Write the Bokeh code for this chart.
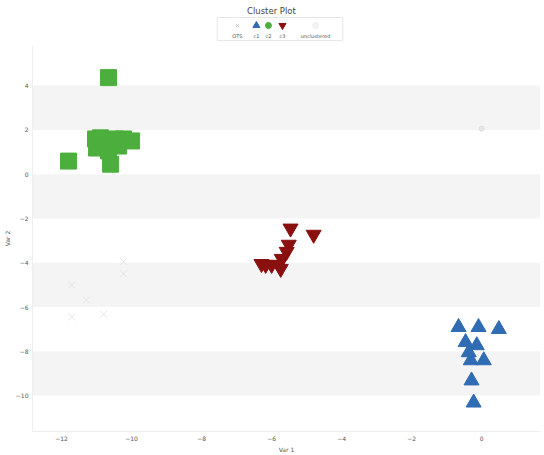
from bokeh.plotting import figure
from bokeh.layouts import column
from bokeh.models import Range1d, FixedTicker
from bokeh.embed import file_html
from bokeh.resources import INLINE
from bokeh.core.properties import value

# ---- data -------------------------------------------------------------
c1_x = [-0.66, -0.09, 0.49, -0.46, -0.14, -0.37, 0.06, -0.31, -0.29, -0.23]
c1_y = [-6.91, -6.91, -7.00, -7.59, -7.73, -8.05, -8.41, -8.41, -9.32, -10.32]

c2_x = [-10.66, -11.03, -10.89, -10.74, -10.46, -10.23, -10.00, -11.00, -10.66, -10.60, -11.80, -10.37]
c2_y = [4.36, 1.59, 1.64, 1.50, 1.59, 1.59, 1.50, 1.18, 1.05, 0.45, 0.59, 1.27]

c3_x = [-5.46, -4.80, -5.51, -5.57, -5.71, -5.80, -6.00, -6.17, -6.29, -5.74]
c3_y = [-2.45, -2.73, -3.18, -3.50, -3.82, -4.09, -4.09, -4.09, -4.05, -4.27]

ots_x = [-10.23, -10.23, -11.71, -11.29, -10.80, -11.71]
ots_y = [-3.95, -4.50, -5.00, -5.68, -6.32, -6.45]

unc_x = [0.0]
unc_y = [2.05]

legend_labels = ["OTS", "c1", "c2", "c3", "unclustered"]
x_ticks = [-12, -10, -8, -6, -4, -2, 0]
y_ticks = [4, 2, 0, -2, -4, -6, -8, -10]

FONT = "DejaVu Sans"
GREEN = "#4caf3d"
BLUE = "#2f6cb3"
RED = "#8a1010"
FAINT = "#dcdcdc"

# ---- header: title + legend (page-pixel coordinates) -------------------
# the column aligns this frame with the scatter frame, which starts at ~34px
head = figure(width=544, height=45, x_range=Range1d(34, 540), y_range=Range1d(45, 0),
              toolbar_location=None, output_backend="svg",
              min_border=0, outline_line_color=None)
head.axis.visible = False
head.grid.visible = False

head.text(x=[272], y=[10], text=["Cluster Plot"], text_font=value(FONT),
          text_font_size="8.5px", text_color="#444444", text_align="center",
          text_baseline="middle")
head.quad(left=[218], right=[343], top=[17], bottom=[40], fill_color="white",
          line_color="#e6e6e6", line_width=1)

item_x = [238, 257, 269, 283, 316]
head.scatter(x=item_x[0:1], y=[25], marker="x", size=5, line_color="#cccccc")
head.scatter(x=item_x[1:2], y=[25], marker="triangle", size=7, fill_color=BLUE, line_color=BLUE)
head.scatter(x=item_x[2:3], y=[25], marker="circle", size=6, fill_color=GREEN, line_color=GREEN)
head.scatter(x=item_x[3:4], y=[25], marker="inverted_triangle", size=7, fill_color=RED, line_color=RED)
head.scatter(x=item_x[4:5], y=[25], marker="circle", size=6, fill_color="#f4f4f4", line_color="#f0f0f0")
head.text(x=item_x, y=[35] * 5, text=legend_labels, text_font=value(FONT),
          text_font_size="5px", text_color="#555555", text_align="center",
          text_baseline="middle")

# ---- main scatter -----------------------------------------------------
p = figure(width=544, height=410, x_range=Range1d(-12.83, 1.68), y_range=Range1d(-11.62, 5.81),
           toolbar_location=None, output_backend="svg",
           min_border_left=0, min_border_right=4, min_border_top=0, min_border_bottom=0,
           outline_line_color=None)

p.xgrid.grid_line_color = None
p.ygrid.grid_line_color = None
p.ygrid.band_fill_color = "#f4f4f4"
p.ygrid.band_fill_alpha = 1.0

p.xaxis.ticker = FixedTicker(ticks=x_ticks)
p.yaxis.ticker = FixedTicker(ticks=y_ticks)
for ax in (p.xaxis[0], p.yaxis[0]):
    ax.axis_line_color = "#eeeeee"
    ax.major_tick_line_color = None
    ax.minor_tick_line_color = None
    ax.major_tick_out = 0
    ax.major_tick_in = 0
    ax.major_label_text_font = FONT
    ax.major_label_text_font_size = "6px"
    ax.major_label_text_color = "#555555"
    ax.axis_label_text_font = FONT
    ax.axis_label_text_font_size = "6px"
    ax.axis_label_text_font_style = "normal"
    ax.axis_label_text_color = "#555555"
    ax.major_label_standoff = 4
    ax.axis_label_standoff = 2
p.xaxis.axis_label = "Var 1"
p.yaxis.axis_label = "Var 2"

p.scatter(ots_x, ots_y, marker="x", size=10, line_color=FAINT, line_alpha=0.7)
p.scatter(unc_x, unc_y, marker="circle", size=5, fill_color="#e6e6e6", line_color="#dddddd")
p.scatter(c2_x, c2_y, marker="square", size=16, fill_color=GREEN, line_color=GREEN)
p.scatter(c3_x, c3_y, marker="inverted_triangle", size=15, fill_color=RED, line_color=RED)
p.scatter(c1_x, c1_y, marker="triangle", size=15, fill_color=BLUE, line_color=BLUE)

layout = column(head, p, spacing=0)
open("out.html", "w").write(file_html(layout, INLINE))
